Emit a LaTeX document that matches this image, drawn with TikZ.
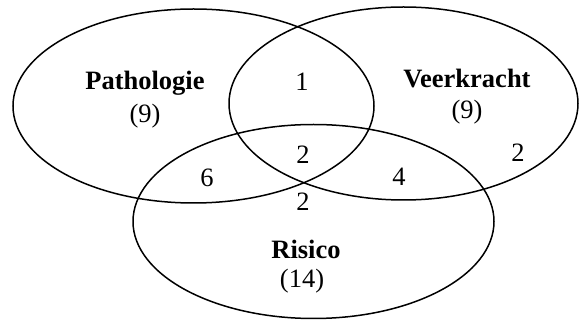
\documentclass[tikz,border=0pt]{standalone}
\usepackage{fontspec}
\setmainfont{Liberation Serif}
\begin{document}
\begin{tikzpicture}[x=1pt,y=-1pt,
  setline/.style={line width=1.5pt},
  lbl/.style={font=\fontsize{26.5}{28}\selectfont, inner sep=0pt, align=center},
  ttl/.style={font=\fontsize{26.5}{28}\selectfont\bfseries, inner sep=0pt}]
\useasboundingbox (0,0) rectangle (579,320);
\draw[setline] (193.5,106) ellipse [x radius=180.5, y radius=97];
\draw[setline] (403.5,103.5) ellipse [x radius=174.5, y radius=96.5];
\draw[setline] (313.5,221.5) ellipse [x radius=180.5, y radius=97];
\node[ttl] (pt) at (145,83) {Pathologie};
\node[lbl] (pn) at (145,116) {(9)};
\node[ttl] (vt) at (467,79) {Veerkracht};
\node[lbl] (vn) at (467,112) {(9)};
\node[ttl] (rt) at (306,249) {Risico};
\node[lbl] (rn) at (302,281) {(14)};
\node[lbl] (pv) at (302,82) {1};
\node[lbl] (vo) at (518,153) {2};
\node[lbl] (all) at (303,155) {2};
\node[lbl] (ro) at (303,202) {2};
\node[lbl] (pr) at (207,178) {6};
\node[lbl] (vr) at (399,177) {4};
\end{tikzpicture}
\end{document}
